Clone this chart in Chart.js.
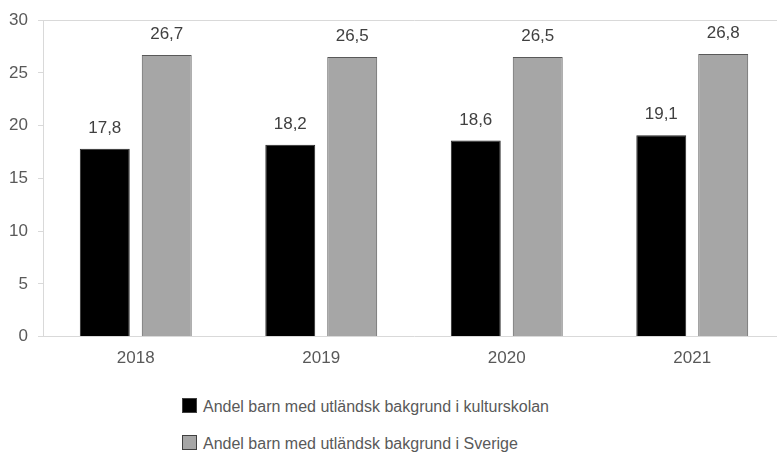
<!DOCTYPE html>
<html>
<head>
<meta charset="utf-8">
<script src="https://cdn.jsdelivr.net/npm/chart.js@4/dist/chart.umd.min.js"></script>
<style>
  html, body { margin: 0; padding: 0; background: #fff; }
  body { width: 777px; height: 464px; overflow: hidden; position: relative; font-family: "Liberation Sans", Arial, sans-serif; }
  #wrap { position: absolute; left: 0; top: 0; width: 790px; height: 387px; }
  .legend { position: absolute; left: 182px; font-size: 16px; color: #595959; white-space: nowrap; }
  .legend span.box { display: inline-block; width: 13px; height: 13px; border: 1px solid #404040; margin-right: 6px; vertical-align: -1px; }
</style>
</head>
<body>
<div id="wrap"><canvas id="chart"></canvas></div>
<div id="legend"></div>
<script>
const years = ['2018', '2019', '2020', '2021'];
const kulturskolan = [17.8, 18.2, 18.6, 19.1];
const sverige = [26.7, 26.5, 26.5, 26.8];
const seriesNames = [
  'Andel barn med utländsk bakgrund i kulturskolan',
  'Andel barn med utländsk bakgrund i Sverige'
];
const yTicks = [0, 5, 10, 15, 20, 25, 30];

const FONT = '"Liberation Sans", Arial, sans-serif';

// value labels above the bars, Swedish decimal comma
const barLabels = {
  id: 'barLabels',
  afterDatasetsDraw(chart) {
    const { ctx } = chart;
    ctx.save();
    ctx.font = '17px ' + FONT;
    ctx.fillStyle = '#404040';
    ctx.textAlign = 'center';
    ctx.textBaseline = 'bottom';
    chart.data.datasets.forEach((ds, i) => {
      chart.getDatasetMeta(i).data.forEach((bar, j) => {
        const txt = ds.data[j].toFixed(1).replace('.', ',');
        ctx.fillText(txt, bar.x, bar.y - 12);
      });
    });
    ctx.restore();
  }
};

new Chart(document.getElementById('chart'), {
  type: 'bar',
  data: {
    labels: years,
    datasets: [
      { label: seriesNames[0], data: kulturskolan, backgroundColor: '#000000', borderColor: '#262626', borderWidth: 1 },
      { label: seriesNames[1], data: sverige, backgroundColor: '#a6a6a6', borderColor: '#595959', borderWidth: 1 }
    ]
  },
  options: {
    responsive: true,
    maintainAspectRatio: false,
    animation: false,
    layout: { padding: { top: 19, right: 5, bottom: 6, left: 0 } },
    datasets: { bar: { categoryPercentage: 0.668, barPercentage: 0.806 } },
    plugins: { legend: { display: false }, tooltip: { enabled: false } },
    scales: {
      x: {
        grid: { display: false, drawTicks: false },
        border: { display: true, color: '#d9d9d9', width: 1 },
        ticks: { color: '#595959', padding: 12, font: { size: 17, family: FONT } }
      },
      y: {
        min: 0, max: 30,
        afterBuildTicks(scale) { scale.ticks = yTicks.map(v => ({ value: v })); },
        afterFit(scale) { scale.width = 43; },
        grid: {
          color: c => c.tick && c.tick.value === 30 ? '#d9d9d9' : 'rgba(0,0,0,0)',
          tickColor: '#d9d9d9',
          tickLength: 5
        },
        border: { display: true, color: '#d9d9d9', width: 1 },
        ticks: { color: '#595959', padding: 10, font: { size: 17, family: FONT } }
      }
    }
  },
  plugins: [barLabels]
});

const legendEl = document.getElementById('legend');
const legendColors = ['#000000', '#a6a6a6'];
const legendTops = [398, 435];
seriesNames.forEach((name, i) => {
  const row = document.createElement('div');
  row.className = 'legend';
  row.style.top = legendTops[i] + 'px';
  row.innerHTML = `<span class="box" style="background:${legendColors[i]}"></span>${name}`;
  legendEl.appendChild(row);
});
</script>
</body>
</html>
